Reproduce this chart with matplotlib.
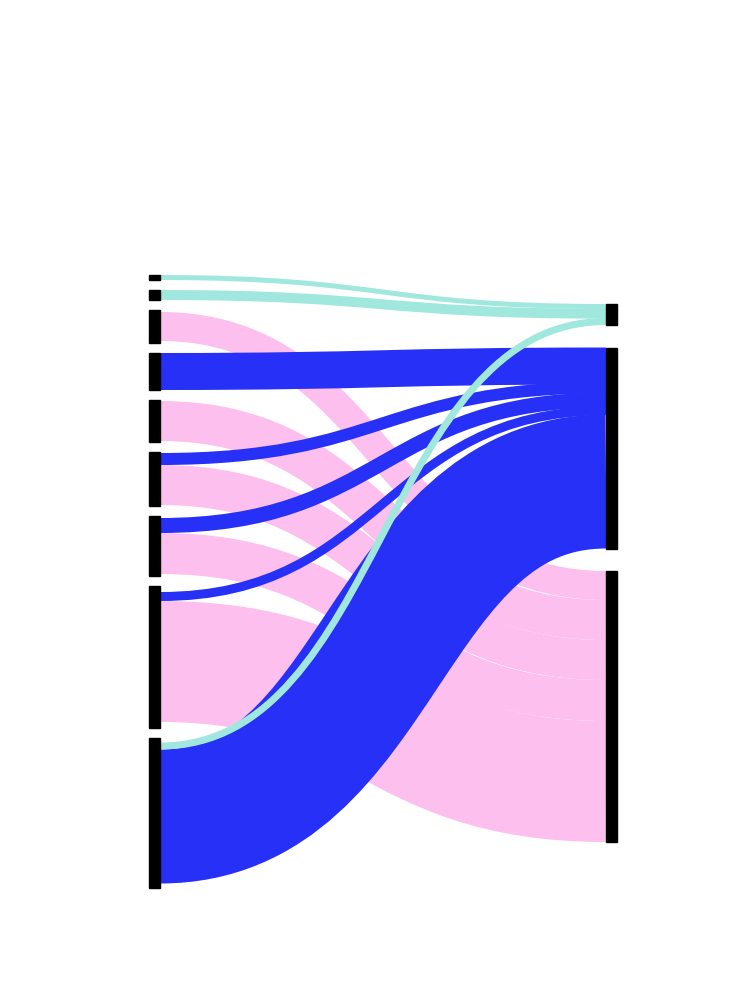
import matplotlib
matplotlib.use("Agg")
import matplotlib.pyplot as plt
from matplotlib.path import Path
from matplotlib.patches import PathPatch, Rectangle

# node sizes, links as (source, target, value)
left_size = [5, 10, 33, 37, 42, 54, 60, 142, 150]
right_size = [21, 201, 271]
link_src = [0, 1, 2, 3, 4, 5, 5, 6, 6, 7, 7, 8, 8]
link_tgt = [0, 0, 2, 1, 2, 1, 2, 1, 2, 1, 2, 1, 0]
link_val = [5, 10, 29, 37, 40, 12, 40, 15, 41, 9, 121, 134, 7]
target_colors = ['#a0e8de', '#2630f6', '#fcbfee']

# layout (pixels)
W, H = 750, 1000
x_left, x_right, node_w = 149, 606, 11
left_top, right_top = 275, 304
left_pad, right_pad = 10, 22.5


def stack(sizes, top, pad):
    pos, y = [], top
    for s in sizes:
        pos.append(y)
        y += s + pad
    return pos


left_y = stack(left_size, left_top, left_pad)
right_y = stack(right_size, right_top, right_pad)

idx = range(len(link_val))
src_mid, tgt_mid = {}, {}

# left side: bands stacked, centred in the node
for i in range(len(left_size)):
    out = sorted([k for k in idx if link_src[k] == i], key=lambda k: link_tgt[k])
    total = sum(link_val[k] for k in out)
    y = left_y[i] + (left_size[i] - total) / 2
    for k in out:
        src_mid[k] = y + link_val[k] / 2
        y += link_val[k]

# right side: bands squeezed into the node so they overlap a little
for j in range(len(right_size)):
    inc = sorted([k for k in idx if link_tgt[k] == j], key=lambda k: link_src[k])
    total = sum(link_val[k] for k in inc)
    step = (right_size[j] - link_val[inc[-1]]) / (total - link_val[inc[-1]])
    y = right_y[j]
    for k in inc:
        tgt_mid[k] = y + link_val[k] / 2
        y += link_val[k] * step

fig = plt.figure(figsize=(7.5, 10), dpi=100)
ax = fig.add_axes([0, 0, 1, 1])
ax.set_xlim(0, W)
ax.set_ylim(H, 0)
ax.axis('off')

x0, x1 = x_left + node_w, x_right
xm = (x0 + x1) / 2
for k in idx:
    y0, y1 = src_mid[k], tgt_mid[k]
    p = Path([(x0, y0), (xm, y0), (xm, y1), (x1, y1)],
             [Path.MOVETO, Path.CURVE4, Path.CURVE4, Path.CURVE4])
    ax.add_patch(PathPatch(p, facecolor='none', edgecolor=target_colors[link_tgt[k]],
                           lw=link_val[k] * 72 / 100, capstyle='butt'))

for i, s in enumerate(left_size):
    ax.add_patch(Rectangle((x_left, left_y[i]), node_w, s, color='black', zorder=3))
for j, s in enumerate(right_size):
    ax.add_patch(Rectangle((x_right, right_y[j]), node_w, s, color='black', zorder=3))

fig.savefig('out.png', dpi=100)
